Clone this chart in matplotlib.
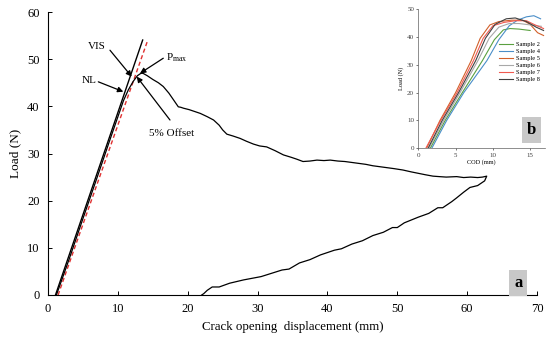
import matplotlib.pyplot as plt
import numpy as np

plt.rcParams['font.family'] = ['Liberation Serif', 'DejaVu Serif']
plt.rcParams['mathtext.fontset'] = 'custom'
plt.rcParams['mathtext.rm'] = 'Liberation Serif'

# main test curve (loading, softening, unloading)
cod = [1.2, 3, 5, 7, 9, 10.8, 11.5, 12.2, 12.8, 13.3, 13.6, 14.2, 15.0, 15.8, 16.5,
       17.3, 18.0, 18.65, 19.0, 19.4, 20.2, 21.0, 21.8, 22.8, 23.7, 24.5, 25.0, 25.6,
       26.5, 27.5, 28.4, 29.4, 30.3, 31.3, 32.5, 33.7, 34.8, 35.6, 36.5, 37.5, 38.5,
       39.5, 40.4, 41.5, 42.5, 43.5, 44.5, 45.5, 46.5, 47.5, 48.5, 49.5, 50.8, 52,
       53, 54, 55.1, 56, 57, 58.5, 59.5, 60.5, 61.5, 62.2, 62.8,
       62.5, 61.5, 60.4, 59.5, 58.5, 57.8, 56.5, 55.8, 54.5, 53, 51, 50, 49.3, 48,
       46.5, 45, 43.5, 42, 41, 39, 37.5, 36, 34.5, 33.5, 32, 30.5, 28, 26, 24.5,
       23.5, 22.8, 22.3, 22]
load = [0, 7.5, 16.2, 24.8, 33.5, 41.2, 43.5, 45.3, 46.5, 47.0, 47.0, 46.5, 45.7, 45.0,
        44.2, 42.8, 41.3, 39.9, 39.8, 39.6, 39.3, 38.9, 38.5, 37.8, 37.1, 36.0, 35.0,
        34.1, 33.7, 33.2, 32.6, 32.0, 31.6, 31.4, 30.6, 29.7, 29.2, 28.8, 28.3, 28.4,
        28.6, 28.5, 28.6, 28.4, 28.3, 28.1, 27.9, 27.7, 27.4, 27.2, 27.0, 26.8, 26.5,
        26.1, 25.8, 25.5, 25.2, 25.1, 25.0, 25.1, 24.9, 25.0, 24.9, 25.0, 25.2,
        24.2, 23.2, 22.8, 21.8, 20.6, 19.8, 18.5, 18.5, 17.3, 16.5, 15.3, 14.3, 14.3,
        13.3, 12.6, 11.5, 10.8, 9.8, 9.5, 8.5, 7.5, 6.8, 5.5, 5.3, 4.6, 3.9, 3.2, 2.5,
        1.7, 1.7, 1.0, 0.3, 0]

# initial tangent and 5% offset line
tangent_x = [1.07, 13.55]
tangent_y = [0, 54.06]
offset_x = [1.44, 14.2]
offset_y = [0, 53.7]

# inset samples
samples = {
    'Sample 2': ([1.6, 3.6, 5.9, 8.6, 10.2, 11.4, 12.3, 13.5, 15.0],
                 [0, 10, 20, 31.5, 39, 42.5, 43, 42.8, 42.3]),
    'Sample 4': ([1.8, 3.8, 6.1, 9.2, 10.8, 12.2, 13.3, 14.5, 15.5, 16.4],
                 [0, 10, 20, 31.5, 39, 44, 46, 47.2, 47.6, 46.5]),
    'Sample 5': ([1.1, 2.9, 5.0, 7.1, 8.3, 9.6, 10.8, 12.5, 14.0, 15.0, 16.0, 16.8],
                 [0, 10, 20, 31.5, 39.5, 44.3, 45.5, 46, 46, 44.5, 41.5, 40.5]),
    'Sample 6': ([1.4, 3.4, 5.6, 8.0, 9.5, 10.8, 12.2, 13.5, 15.0, 16.5],
                 [0, 10, 20, 31.5, 39.5, 43.5, 44.8, 44.8, 44.3, 43.8]),
    'Sample 7': ([1.0, 3.0, 5.2, 7.4, 8.7, 10.0, 11.5, 13.0, 14.5, 15.5, 16.8],
                 [0, 10, 20, 31.5, 39.5, 44, 45.2, 45.8, 45.8, 44.5, 43]),
    'Sample 8': ([1.3, 3.2, 5.4, 7.7, 9.0, 10.3, 11.8, 13.0, 14.5, 15.8, 16.8],
                 [0, 10, 20, 31.5, 39.5, 44.5, 46.5, 46.8, 45.5, 43.5, 42.3]),
}
sample_colors = ['#5aa040', '#4a8ec8', '#d2602a', '#a8a8a8', '#f05a50', '#404040']

fig = plt.figure(figsize=(5.5, 3.41), dpi=100)
ax = fig.add_axes([0.0873, 0.1349, 0.8891, 0.8299])

ax.plot(tangent_x, tangent_y, color='black', lw=1.0)
ax.plot(offset_x, offset_y, color='#e03030', lw=1.0, ls=(0, (3, 2)))
ax.plot(cod, load, color='black', lw=0.9)

ax.set_xlim(0, 70)
ax.set_ylim(0, 60)
ax.set_xticks(np.arange(0, 71, 10))
ax.set_yticks(np.arange(0, 61, 10))
ax.tick_params(direction='in', labelsize=9, length=3, width=0.7, pad=6)
for s in ['top', 'right']:
    ax.spines[s].set_visible(False)
for s in ['left', 'bottom']:
    ax.spines[s].set_linewidth(0.8)
ax.set_xlabel('Crack opening  displacement (mm)', fontsize=9.3)
ax.set_ylabel('Load (N)', fontsize=9.5)

arrow = dict(arrowstyle='-|>', color='black', lw=0.9, mutation_scale=8,
             shrinkA=0, shrinkB=0)
ax.annotate('', xy=(11.98, 46.3), xytext=(8.87, 51.9), arrowprops=arrow)
ax.text(8.2, 52.6, 'VIS', fontsize=8, ha='right', va='center')
ax.annotate('', xy=(10.78, 43.1), xytext=(7.2, 45.2), arrowprops=arrow)
ax.text(7.0, 45.4, 'NL', fontsize=8, ha='right', va='center')
ax.annotate('', xy=(13.17, 47.0), xytext=(16.5, 50.2), arrowprops=arrow)
ax.text(16.9, 50.4, r'P$_{\rm max}$', fontsize=8, ha='left', va='center')
ax.annotate('', xy=(12.7, 46.3), xytext=(17.46, 37.1), arrowprops=arrow)
ax.text(17.7, 34.3, '5% Offset', fontsize=8, ha='center', va='center')

ax.text(67.3, 2.6, 'a', fontsize=12, fontweight='bold', ha='center', va='center',
        bbox=dict(boxstyle='square,pad=0.3', facecolor='#c8c8c8', edgecolor='none'))

# inset
axin = fig.add_axes([0.7606, 0.565, 0.2304, 0.4085])
for (name, (xs, ys)), c in zip(samples.items(), sample_colors):
    axin.plot(xs, ys, color=c, lw=0.8, label=name)
axin.set_xlim(0, 17)
axin.set_ylim(0, 50)
axin.set_xticks([0, 5, 10, 15])
axin.set_yticks(np.arange(0, 51, 10))
axin.tick_params(labelsize=5, length=1.5, width=0.5, pad=1.5, colors='#404040')
for s in ['top', 'right']:
    axin.spines[s].set_visible(False)
for s in ['left', 'bottom']:
    axin.spines[s].set_linewidth(0.5)
    axin.spines[s].set_color('#606060')
axin.set_xlabel('COD (mm)', fontsize=4.5, labelpad=1)
axin.set_ylabel('Load (N)', fontsize=4.5, labelpad=2)
axin.legend(loc='upper left', bbox_to_anchor=(0.6, 0.8), fontsize=4.6, frameon=False,
            handlelength=2.2, labelspacing=0.25, borderpad=0.2, handletextpad=0.5)
axin.text(15.2, 6.5, 'b', fontsize=12, fontweight='bold', ha='center', va='center',
          bbox=dict(boxstyle='square,pad=0.3', facecolor='#c8c8c8', edgecolor='none'))

fig.savefig('out.png', dpi=100)
